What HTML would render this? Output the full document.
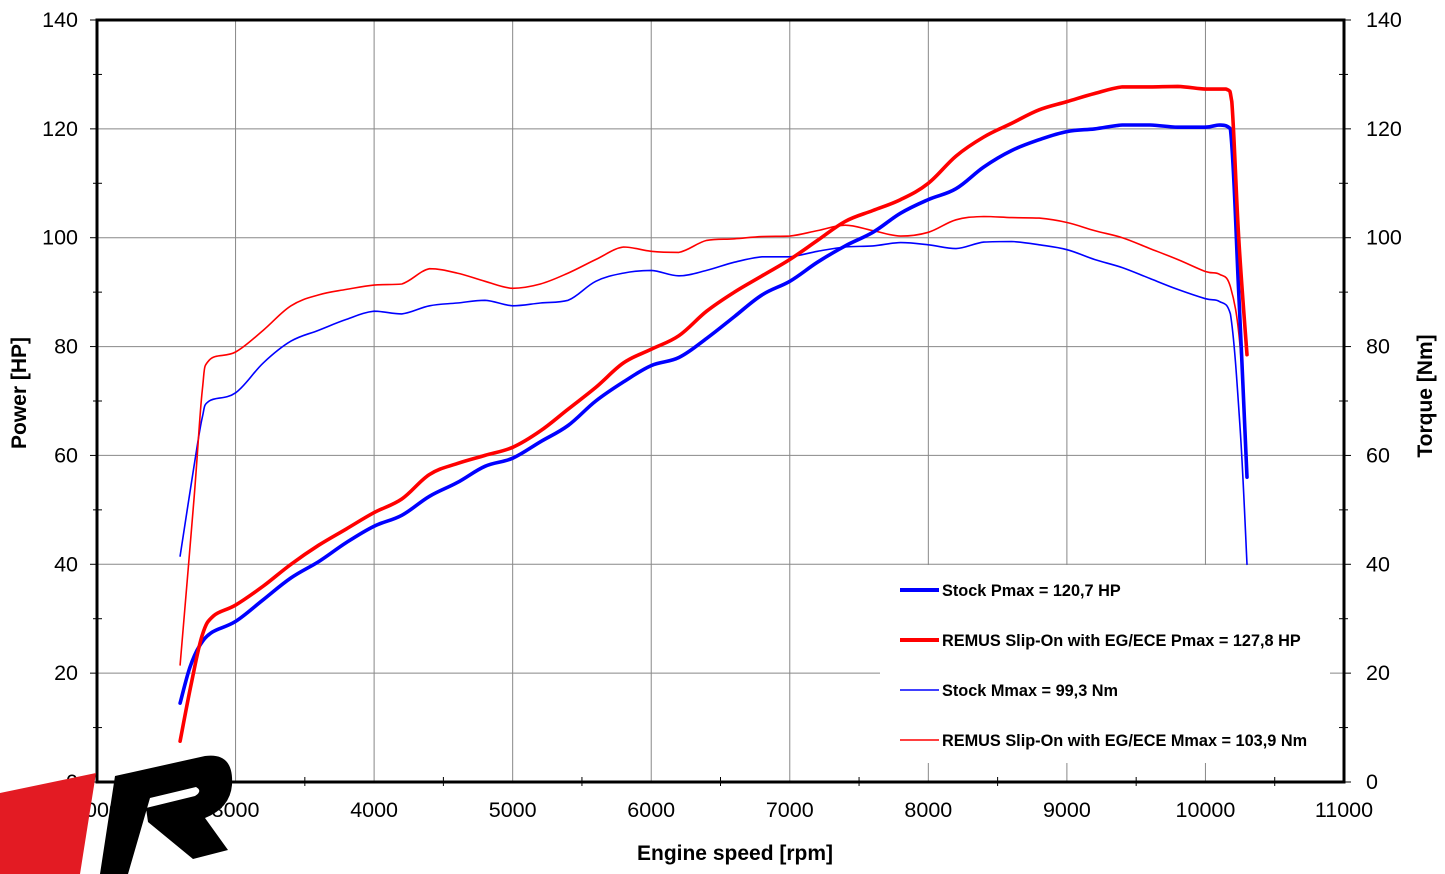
<!DOCTYPE html>
<html><head><meta charset="utf-8"><style>
html,body{margin:0;padding:0;background:#fff;}
svg{display:block;font-family:"Liberation Sans",Arial,sans-serif;}
</style></head><body>
<svg id="chart" width="1445" height="874" viewBox="0 0 1445 874" xmlns="http://www.w3.org/2000/svg">
<g id="grid"></g>
<g id="series"></g>
<g id="legend"></g>
<g id="axes"></g>
<text x="735" y="860" text-anchor="middle" font-size="21" font-weight="bold">Engine speed [rpm]</text>
<text transform="translate(26,393) rotate(-90)" text-anchor="middle" font-size="21" font-weight="bold">Power [HP]</text>
<text transform="translate(1432,396) rotate(-90)" text-anchor="middle" font-size="21" font-weight="bold">Torque [Nm]</text>
<g>
<polygon points="0,793 96,773 80,874 0,874" fill="#e31b23"/>
<path d="M115,776 L205,756 Q234,752 232,785 Q230,808 205,818 L228,850 L193,859 L148,822 L146,808 L195,796 Q203,791 196,787 L150,798 L128,874 L100,874 Z" fill="#000"/>
</g>
</svg>
<script>
const rpmStockP=[2600,2670,2740,2830,3000,3200,3400,3600,3800,4000,4200,4400,4600,4800,5000,5200,5400,5600,5800,6000,6200,6400,6600,6800,7000,7200,7400,7600,7800,8000,8200,8400,8600,8800,9000,9200,9400,9600,9800,10000,10100,10180,10240,10300];
const stockPower=[14.5,21,25,27.5,29.5,33.5,37.5,40.5,44,47,49,52.5,55,58,59.5,62.5,65.5,70,73.5,76.5,78,81.5,85.5,89.5,92,95.5,98.5,101,104.5,107,109,113,116,118,119.5,120,120.7,120.7,120.3,120.3,120.7,120,90,56];
const rpmRemusP=[2600,2680,2760,2840,3000,3200,3400,3600,3800,4000,4200,4400,4600,4800,5000,5200,5400,5600,5800,6000,6200,6400,6600,6800,7000,7200,7400,7600,7800,8000,8200,8400,8600,8800,9000,9200,9400,9600,9800,10000,10150,10190,10240,10300];
const remusPower=[7.5,18,27,30.5,32.5,36,40,43.5,46.5,49.5,52,56.5,58.5,60,61.5,64.5,68.5,72.5,77,79.5,82,86.5,90,93,96,99.5,103,105,107,110,115,118.5,121,123.5,125,126.5,127.7,127.7,127.8,127.3,127.3,125,100,78.5];
const rpmTorque=[2600,2700,2760,2810,3000,3200,3400,3600,3800,4000,4200,4400,4600,4800,5000,5200,5400,5600,5800,6000,6200,6400,6600,6800,7000,7200,7400,7600,7800,8000,8200,8400,8600,8800,9000,9200,9400,9600,9800,10000,10100,10180,10250,10300];
const stockTorque=[41.5,58,67,70,71.5,77,81,83,85,86.5,86,87.5,88,88.5,87.5,88,88.5,92,93.5,94,93,94,95.5,96.5,96.5,97.5,98.3,98.5,99.1,98.7,98,99.2,99.3,98.7,97.8,96,94.5,92.5,90.5,88.8,88.3,86,65,40];
const remusTorque=[21.5,52,72,77.5,79,83,87.5,89.5,90.5,91.3,91.5,94.3,93.5,92,90.7,91.5,93.5,96,98.3,97.5,97.3,99.5,99.8,100.2,100.3,101.3,102.3,101.3,100.3,101,103.3,103.9,103.7,103.6,102.8,101.3,100,98,96,93.8,93.3,91,80,56.5];
const xTicks=[2000,3000,4000,5000,6000,7000,8000,9000,10000,11000];
const yTicks=[0,20,40,60,80,100,120,140];
const legendLabels=["Stock Pmax = 120,7 HP","REMUS Slip-On with EG/ECE Pmax = 127,8 HP","Stock Mmax = 99,3 Nm","REMUS Slip-On with EG/ECE Mmax = 103,9 Nm"];

const X0=97,X1=1344,Y0=782,Y1=20;
const xs=v=>X0+(v-2000)/9000*(X1-X0);
const ys=v=>Y0-v/140*(Y0-Y1);
const NS="http://www.w3.org/2000/svg";
function mk(tag,attrs,parent){const e=document.createElementNS(NS,tag);for(const k in attrs)e.setAttribute(k,attrs[k]);parent.appendChild(e);return e;}
const grid=document.getElementById('grid'),series=document.getElementById('series'),legend=document.getElementById('legend'),axes=document.getElementById('axes');

xTicks.forEach(t=>{const l=mk('line',{x1:xs(t),x2:xs(t),y1:Y1,y2:Y0,stroke:'#888','stroke-width':1},grid);


const tx=mk('text',{x:xs(t),y:817,'text-anchor':'middle','font-size':21.5},axes);tx.textContent=t;

});
yTicks.forEach(t=>{const l=mk('line',{x1:X0,x2:X1,y1:ys(t),y2:ys(t),stroke:'#888','stroke-width':1},grid);


const a=mk('text',{x:78,y:ys(t)+7,'text-anchor':'end','font-size':21.5},axes);a.textContent=t;


const b=mk('text',{x:1366,y:ys(t)+7,'text-anchor':'start','font-size':21.5},axes);b.textContent=t;


mk('line',{x1:X0-7,x2:X0,y1:ys(t),y2:ys(t),stroke:'#000','stroke-width':1},axes);
mk('line',{x1:X1,x2:X1+7,y1:ys(t),y2:ys(t),stroke:'#000','stroke-width':1},axes);});
for(let t=10;t<140;t+=20){mk('line',{x1:X0-4,x2:X0+5,y1:ys(t),y2:ys(t),stroke:'#000','stroke-width':1},axes);
mk('line',{x1:X1-5,x2:X1+4,y1:ys(t),y2:ys(t),stroke:'#000','stroke-width':1},axes);}
for(let t=2500;t<11000;t+=1000){mk('line',{x1:xs(t),x2:xs(t),y1:Y0-5,y2:Y0+4,stroke:'#000','stroke-width':1},axes);}

const lb=mk('rect',{x:880,y:565,width:450,height:198,fill:'#fff'},grid);



function clamp(v,a,b){const lo=Math.min(a,b),hi=Math.max(a,b);return Math.max(lo,Math.min(hi,v));}
function smoothPath(pts){let d='M'+pts[0][0].toFixed(1)+','+pts[0][1].toFixed(1);
for(let i=0;i<pts.length-1;i++){const p0=pts[Math.max(0,i-1)],p1=pts[i],p2=pts[i+1],p3=pts[Math.min(pts.length-1,i+2)];
const t=0.18;
const c1=[p1[0]+(p2[0]-p0[0])*t,clamp(p1[1]+(p2[1]-p0[1])*t,p1[1],p2[1])];
const c2=[p2[0]-(p3[0]-p1[0])*t,clamp(p2[1]-(p3[1]-p1[1])*t,p1[1],p2[1])];
d+=' C'+c1[0].toFixed(1)+','+c1[1].toFixed(1)+' '+c2[0].toFixed(1)+','+c2[1].toFixed(1)+' '+p2[0].toFixed(1)+','+p2[1].toFixed(1);}
return d;}
function line(xv,yv,color,w,name){const pts=xv.map((x,i)=>[xs(x),ys(yv[i])]);
const p=mk('path',{d:smoothPath(pts),fill:'none',stroke:color,'stroke-width':w,'stroke-linejoin':'round','stroke-linecap':'round'},series);

}
line(rpmTorque,stockTorque,'#0000ff',1.6,'stock-torque-line');
line(rpmTorque,remusTorque,'#ff0000',1.6,'remus-torque-line');
line(rpmStockP,stockPower,'#0000ff',3.6,'stock-power-line');
line(rpmRemusP,remusPower,'#ff0000',3.6,'remus-power-line');

const lc=['#0000ff','#ff0000','#0000ff','#ff0000'],lw=[4,4,1.6,1.6];
legendLabels.forEach((s,i)=>{const y=590+i*50;
const l=mk('line',{x1:900,x2:939,y1:y,y2:y,stroke:lc[i],'stroke-width':lw[i]},legend);


const t=mk('text',{x:942,y:y+6,'font-size':16.3,'font-weight':'bold'},legend);t.textContent=s;

});

const fr=mk('rect',{x:X0,y:Y1,width:X1-X0,height:Y0-Y1,fill:'none',stroke:'#000','stroke-width':3},axes);


</script>
</body></html>
